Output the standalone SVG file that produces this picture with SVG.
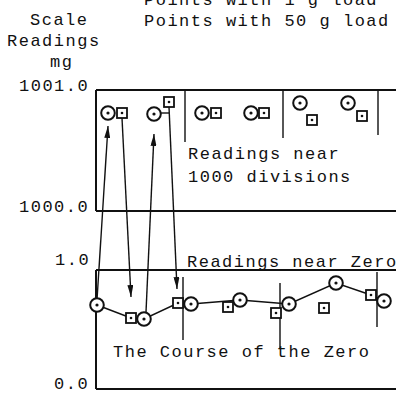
<svg xmlns="http://www.w3.org/2000/svg" width="396" height="394" viewBox="0 0 396 394">
<defs>
<style>
text{font-family:"Liberation Mono","Courier New",monospace;font-size:17px;letter-spacing:1.5px;fill:#111}
.ax{stroke:#111;stroke-width:2;fill:none}
.thin{stroke:#111;stroke-width:1.4;fill:none}
.c{fill:#fff;stroke:#111;stroke-width:2}
.s{fill:#fff;stroke:#111;stroke-width:1.8}
.d{fill:#111}
</style>
<marker id="ah" viewBox="0 0 12 6" refX="12" refY="3" markerWidth="12" markerHeight="6" markerUnits="userSpaceOnUse" orient="auto">
<path d="M0,0 L12,3 L0,6 Z" fill="#111"/>
</marker>
<g id="circ"><circle class="c" cx="0" cy="0" r="6.8"/><circle class="d" cx="0" cy="0" r="1.6"/></g>
<g id="sq"><rect class="s" x="-5" y="-5" width="10" height="10"/><circle class="d" cx="0" cy="0" r="1.3"/></g>
</defs>

<g id="labels">
<text x="144" y="5">Points with 1 g load</text>
<text x="144" y="26">Points with 50 g load</text>
<text x="30" y="25">Scale</text>
<text x="7" y="46">Readings</text>
<text x="50" y="67">mg</text>
<text x="19" y="91">1001.0</text>
<text x="19" y="212">1000.0</text>
<text x="55" y="265">1.0</text>
<text x="54" y="389">0.0</text>
<text x="188" y="159">Readings near</text>
<text x="188" y="182">1000 divisions</text>
<text x="187" y="267">Readings near Zero</text>
<text x="113" y="357">The Course of the Zero</text>
</g>

<g id="axes">
<path class="ax" d="M96,90 H396 M96,90 V211 M96,211 H396"/>
<path class="ax" d="M96,270 H396 M96,270 V389 M96,389 H396"/>
<path class="thin" d="M185,90 V142 M283,90 V138 M378,90 V135"/>
<path class="thin" d="M183,277 V340 M280,283 V348 M377,272 V327"/>
</g>

<g id="connectors">
<polyline class="thin" points="97,305 131,318 144,319 178,303 191,304 240,300 289,304 336,283 371,295 384,301"/>
<line class="thin" x1="97" y1="300" x2="108" y2="126" marker-end="url(#ah)"/>
<line class="thin" x1="122" y1="118" x2="131" y2="297" marker-end="url(#ah)"/>
<line class="thin" x1="146" y1="312" x2="154" y2="134" marker-end="url(#ah)"/>
<line class="thin" x1="169" y1="107" x2="177" y2="289" marker-end="url(#ah)"/>
<path class="thin" d="M161,113 H169"/>
</g>

<g id="upper-1"><use href="#circ" x="108" y="113"/><use href="#sq" x="122" y="113"/></g>
<g id="upper-2"><use href="#circ" x="154" y="114"/><use href="#sq" x="169" y="102"/></g>
<g id="upper-3"><use href="#circ" x="202" y="113"/><use href="#sq" x="216" y="113"/></g>
<g id="upper-4"><use href="#circ" x="251" y="113"/><use href="#sq" x="264" y="113"/></g>
<g id="upper-5"><use href="#circ" x="300" y="103"/><use href="#sq" x="312" y="120"/></g>
<g id="upper-6"><use href="#circ" x="348" y="103"/><use href="#sq" x="362" y="116"/></g>

<g id="zero-1"><use href="#circ" x="97" y="305"/></g>
<g id="zero-2"><use href="#sq" x="131" y="318"/><use href="#circ" x="144" y="319"/></g>
<g id="zero-3"><use href="#sq" x="178" y="303"/><use href="#circ" x="191" y="304"/></g>
<g id="zero-4"><use href="#sq" x="228" y="307"/><use href="#circ" x="240" y="300"/></g>
<g id="zero-5"><use href="#sq" x="276" y="313"/><use href="#circ" x="289" y="304"/></g>
<g id="zero-6"><use href="#sq" x="324" y="308"/><use href="#circ" x="336" y="283"/></g>
<g id="zero-7"><use href="#sq" x="371" y="295"/><use href="#circ" x="384" y="301"/></g>
</svg>
